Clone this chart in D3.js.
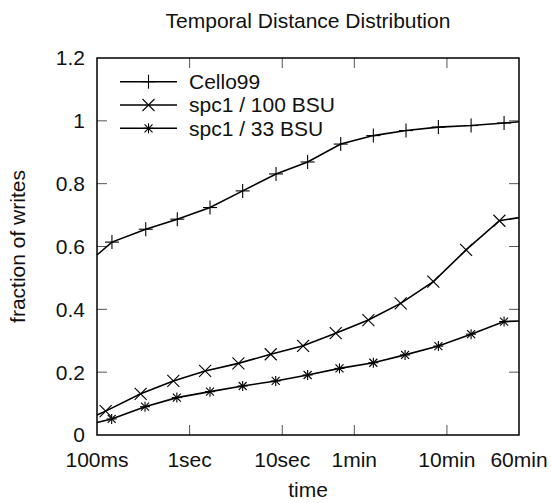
<!DOCTYPE html>
<html><head><meta charset="utf-8">
<script src="https://cdn.jsdelivr.net/npm/d3@7"></script>
<style>body{margin:0;background:#fff}svg{display:block}text{font-family:"Liberation Sans",Arial,sans-serif;fill:#111}</style>
</head><body>
<svg id="c" width="551" height="503"></svg>
<script>
const title = "Temporal Distance Distribution";
const xLabel = "time";
const yLabel = "fraction of writes";
const xTickValues = [0.1, 1, 10, 60, 600, 3600];
const xTickLabels = ["100ms", "1sec", "10sec", "1min", "10min", "60min"];
const yTickValues = [0, 0.2, 0.4, 0.6, 0.8, 1.0, 1.2];
const yTickLabels = ["0", "0.2", "0.4", "0.6", "0.8", "1", "1.2"];
const seriesNames = ["Cello99", "spc1 / 100 BSU", "spc1 / 33 BSU"];
const cello99X = [0.1, 0.145, 0.336, 0.736, 1.66, 3.74, 8.57, 18.8, 42.8, 96.3, 217, 485, 1094, 2484, 3600];
const cello99Y = [0.573, 0.614, 0.655, 0.687, 0.724, 0.777, 0.831, 0.869, 0.926, 0.953, 0.969, 0.980, 0.985, 0.993, 0.997];
const spc100X = [0.1, 0.124, 0.296, 0.667, 1.47, 3.36, 7.51, 16.8, 37.8, 85.1, 190, 428, 966, 2210, 3600];
const spc100Y = [0.064, 0.076, 0.131, 0.172, 0.204, 0.228, 0.257, 0.284, 0.324, 0.366, 0.419, 0.488, 0.589, 0.682, 0.692];
const spc33X = [0.1, 0.144, 0.330, 0.728, 1.66, 3.74, 8.50, 18.8, 41.5, 96.3, 212, 485, 1094, 2484, 3600];
const spc33Y = [0.040, 0.051, 0.090, 0.119, 0.138, 0.156, 0.172, 0.191, 0.212, 0.230, 0.255, 0.283, 0.321, 0.361, 0.363];

const svg = d3.select("#c");
const L = 97, R = 519, T = 58, B = 435;
const FS = 21;
const x = d3.scaleLog().domain([0.1, 3600]).range([L, R]);
const y = d3.scaleLinear().domain([0, 1.2]).range([B, T]);
const tickLen = 10, tickCol = "#555";

// ticks (inward, mirrored)
const g = svg.append("g");
xTickValues.forEach((v, i) => {
  const px = x(v);
  if (i > 0 && i < xTickValues.length - 1) {
    g.append("line").attr("x1", px).attr("x2", px).attr("y1", B).attr("y2", B - tickLen).attr("stroke", tickCol).attr("stroke-width", 1);
    g.append("line").attr("x1", px).attr("x2", px).attr("y1", T).attr("y2", T + tickLen).attr("stroke", tickCol).attr("stroke-width", 1);
  }
  g.append("text").attr("x", px).attr("y", 466.5).attr("text-anchor", "middle").attr("font-size", FS).text(xTickLabels[i]);
});
yTickValues.forEach((v, i) => {
  const py = y(v);
  if (i > 0 && i < yTickValues.length - 1) {
    g.append("line").attr("x1", L).attr("x2", L + tickLen).attr("y1", py).attr("y2", py).attr("stroke", tickCol).attr("stroke-width", 1);
    g.append("line").attr("x1", R).attr("x2", R - tickLen).attr("y1", py).attr("y2", py).attr("stroke", tickCol).attr("stroke-width", 1);
  }
  g.append("text").attr("x", 85).attr("y", py).attr("dy", "0.35em").attr("text-anchor", "end").attr("font-size", FS).text(yTickLabels[i]);
});

// series
const series = [
  {xs: cello99X, ys: cello99Y, m: "plus"},
  {xs: spc100X, ys: spc100Y, m: "cross"},
  {xs: spc33X, ys: spc33Y, m: "star"}
];
const line = d3.line().x(d => x(d[0])).y(d => y(d[1]));
function marker(sel, type, cx, cy) {
  const gg = sel.append("g").attr("stroke", "#000").attr("stroke-width", 1.1).attr("fill", "none");
  if (type === "plus" || type === "star") {
    const r = type === "plus" ? 7 : 5;
    gg.append("line").attr("x1", cx - r).attr("x2", cx + r).attr("y1", cy).attr("y2", cy);
    gg.append("line").attr("x1", cx).attr("x2", cx).attr("y1", cy - r).attr("y2", cy + r);
  }
  if (type === "cross" || type === "star") {
    const r = type === "cross" ? 6 : 4;
    gg.append("line").attr("x1", cx - r).attr("x2", cx + r).attr("y1", cy - r).attr("y2", cy + r);
    gg.append("line").attr("x1", cx - r).attr("x2", cx + r).attr("y1", cy + r).attr("y2", cy - r);
  }
}
const plot = svg.append("g");
series.forEach(s => {
  const pts = s.xs.map((v, i) => [v, s.ys[i]]);
  plot.append("path").attr("d", line(pts)).attr("fill", "none").attr("stroke", "#000").attr("stroke-width", 1.6);
  pts.slice(1, -1).forEach(p => marker(plot, s.m, x(p[0]), y(p[1])));
});

// border
svg.append("rect").attr("x", L).attr("y", T).attr("width", R - L).attr("height", B - T).attr("fill", "none").attr("stroke", "#000").attr("stroke-width", 1.5);

// legend
const leg = svg.append("g");
seriesNames.forEach((n, i) => {
  const ly = 81.7 + i * 23.3;
  leg.append("line").attr("x1", 120).attr("x2", 177).attr("y1", ly).attr("y2", ly).attr("stroke", "#000").attr("stroke-width", 1.6);
  marker(leg, series[i].m, 148.5, ly);
  leg.append("text").attr("x", 189).attr("y", ly).attr("dy", "0.35em").attr("font-size", FS).text(n);
});

// titles
svg.append("text").attr("x", (L + R) / 2).attr("y", 28).attr("text-anchor", "middle").attr("font-size", FS).text(title);
svg.append("text").attr("x", (L + R) / 2).attr("y", 497).attr("text-anchor", "middle").attr("font-size", FS).text(xLabel);
svg.append("text").attr("transform", `translate(25,${(T + B) / 2}) rotate(-90)`).attr("text-anchor", "middle").attr("font-size", FS).text(yLabel);
</script>
</body></html>
